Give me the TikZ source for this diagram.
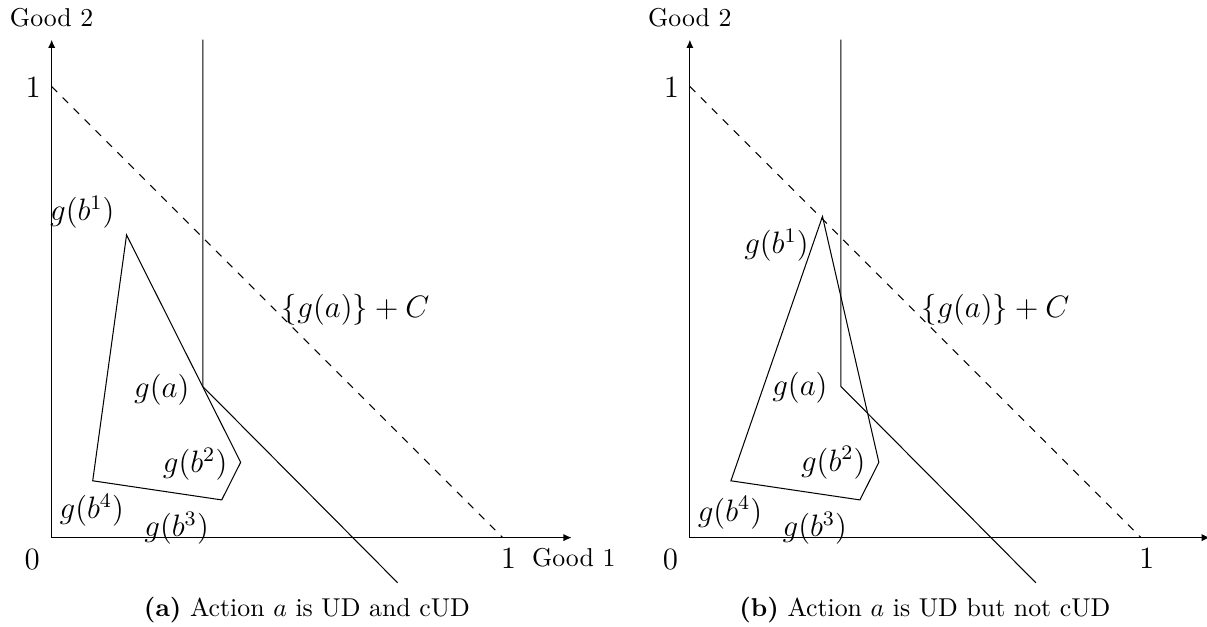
\documentclass[tikz,border=0pt]{standalone}
\usepackage{amsmath}
\usepackage{tikz}
\usetikzlibrary{arrows.meta,positioning,calc}

\begin{document}
\begin{tikzpicture}[
  x=6.14cm,y=6.14cm,
  axis/.style={-{Latex[length=3.2pt,width=2.8pt]},line width=0.45pt},
  budget/.style={dashed},
  hull/.style={line width=0.4pt,line join=miter},
  cone/.style={line width=0.4pt},
  ptlabel/.style={font=\large,inner sep=0pt},
  tick/.style={font=\large,inner sep=0pt},
  goodlabel/.style={inner sep=0pt},
  subcap/.style={inner sep=0pt}
]
\useasboundingbox (-0.1146,-0.198) rectangle (2.5616,1.192);

% (a) UD and cUD
\begin{scope}
\coordinate (oA) at (0,0);
\coordinate (yA) at (0,1.104);
\coordinate (xA) at (1.153,0);
\coordinate (gaA) at (0.335,0.335);
\coordinate (b1A) at (0.166,0.671);
\coordinate (b2A) at (0.419,0.167);
\coordinate (b3A) at (0.377,0.0836);
\coordinate (b4A) at (0.091,0.126);
\coordinate (topA) at (0.335,1.104);
\coordinate (endA) at (0.767,-0.100);
\coordinate (oneyA) at (0,1);
\coordinate (onexA) at (1,0);
\draw[axis] (oA) -- (yA);
\draw[axis] (oA) -- (xA);
\draw[budget] (oneyA) -- (onexA);
\draw[cone] (topA) -- (gaA) -- (endA);
\draw[hull] (b1A) -- (b2A) -- (b3A) -- (b4A) -- cycle;
\node[goodlabel] (good2A) at (0,1.152) {Good 2};
\node[goodlabel,anchor=west] (good1A) at (1.064,-0.044) {Good 1};
\node[tick] (oneyA-l) at (-0.041,0.999) {$1$};
\node[tick] (onexA-l) at (1.013,-0.047) {$1$};
\node[tick] (zeroA) at (-0.043,-0.049) {$0$};
\node[ptlabel] (lb1A) at (0.068,0.722) {$g(b^1)$};
\node[ptlabel] (lgaA) at (0.244,0.328) {$g(a)$};
\node[ptlabel] (lb2A) at (0.318,0.163) {$g(b^2)$};
\node[ptlabel] (lb4A) at (0.089,0.060) {$g(b^4)$};
\node[ptlabel] (lb3A) at (0.277,0.0215) {$g(b^3)$};
\node[ptlabel] (coneA) at (0.674,0.505) {$\{g(a)\}+C$};
\node[subcap] (capA) at (0.566,-0.16) {\textbf{(a)} Action $a$ is UD and cUD};
\end{scope}

% (b) UD but not cUD
\begin{scope}[shift={(1.415,0)}]
\coordinate (oB) at (0,0);
\coordinate (yB) at (0,1.104);
\coordinate (xB) at (1.153,0);
\coordinate (gaB) at (0.335,0.335);
\coordinate (b1B) at (0.294,0.712);
\coordinate (b2B) at (0.419,0.167);
\coordinate (b3B) at (0.377,0.0836);
\coordinate (b4B) at (0.091,0.126);
\coordinate (topB) at (0.335,1.104);
\coordinate (endB) at (0.767,-0.100);
\coordinate (oneyB) at (0,1);
\coordinate (onexB) at (1,0);
\draw[axis] (oB) -- (yB);
\draw[axis] (oB) -- (xB);
\draw[budget] (oneyB) -- (onexB);
\draw[cone] (topB) -- (gaB) -- (endB);
\draw[hull] (b1B) -- (b2B) -- (b3B) -- (b4B) -- cycle;
\node[goodlabel] (good2B) at (0,1.152) {Good 2};
\node[tick] (oneyB-l) at (-0.041,0.999) {$1$};
\node[tick] (onexB-l) at (1.013,-0.047) {$1$};
\node[tick] (zeroB) at (-0.043,-0.049) {$0$};
\node[ptlabel] (lb1B) at (0.192,0.649) {$g(b^1)$};
\node[ptlabel] (lgaB) at (0.244,0.332) {$g(a)$};
\node[ptlabel] (lb2B) at (0.318,0.166) {$g(b^2)$};
\node[ptlabel] (lb4B) at (0.089,0.055) {$g(b^4)$};
\node[ptlabel] (lb3B) at (0.277,0.0215) {$g(b^3)$};
\node[ptlabel] (coneB) at (0.678,0.505) {$\{g(a)\}+C$};
\node[subcap] (capB) at (0.521,-0.16) {\textbf{(b)} Action $a$ is UD but not cUD};
\end{scope}
\end{tikzpicture}
\end{document}
